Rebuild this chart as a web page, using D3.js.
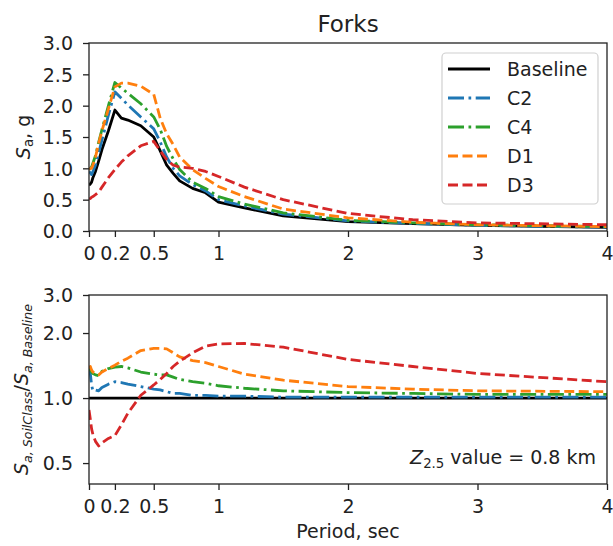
<!DOCTYPE html>
<html>
<head>
<meta charset="utf-8">
<script src="https://cdn.jsdelivr.net/npm/d3@7"></script>
<style>
  body { margin: 0; background: #fff; }
  svg { display: block; font-family: "DejaVu Sans", sans-serif; }
  .tick text { fill: #222; }
</style>
</head>
<body>
<div id="chart"></div>
<script>
// periods (sec)
const periods = [0, 0.01, 0.02, 0.03, 0.05, 0.075, 0.1, 0.15, 0.2, 0.25, 0.3, 0.4, 0.5, 0.55, 0.6, 0.65, 0.7, 0.8, 0.9, 1.0, 1.2, 1.5, 2.0, 2.5, 3.0, 4.0];

// spectral acceleration, g
const saBaseline = [0.73, 0.75, 0.78, 0.85, 0.95, 1.12, 1.30, 1.60, 1.93, 1.80, 1.77, 1.68, 1.50, 1.28, 1.05, 0.92, 0.80, 0.68, 0.61, 0.46, 0.37, 0.24, 0.15, 0.12, 0.09, 0.06];
const saC2 = [0.95, 0.93, 0.90, 0.95, 1.05, 1.25, 1.45, 1.85, 2.22, 2.12, 2.01, 1.82, 1.63, 1.42, 1.18, 1.00, 0.88, 0.74, 0.64, 0.50, 0.40, 0.27, 0.16, 0.12, 0.09, 0.06];
const saC4 = [0.98, 1.00, 1.02, 1.08, 1.20, 1.42, 1.62, 2.00, 2.37, 2.28, 2.20, 2.03, 1.82, 1.62, 1.35, 1.15, 0.98, 0.78, 0.68, 0.55, 0.43, 0.29, 0.17, 0.13, 0.10, 0.07];
const saD1 = [0.98, 1.00, 1.00, 1.05, 1.18, 1.40, 1.60, 1.95, 2.30, 2.36, 2.36, 2.31, 2.18, 1.80, 1.55, 1.38, 1.18, 0.98, 0.84, 0.71, 0.55, 0.35, 0.21, 0.14, 0.10, 0.07];
const saD3 = [0.51, 0.52, 0.54, 0.55, 0.58, 0.62, 0.70, 0.85, 0.98, 1.10, 1.20, 1.36, 1.43, 1.28, 1.14, 1.05, 1.02, 1.00, 0.95, 0.87, 0.70, 0.50, 0.28, 0.18, 0.13, 0.10];

// ratio Sa(soil class) / Sa(baseline)
const ratioBaseline = periods.map(() => 1.0);
const ratioC2 = [1.40, 1.30, 1.15, 1.08, 1.09, 1.08, 1.12, 1.16, 1.19, 1.18, 1.16, 1.13, 1.10, 1.09, 1.07, 1.05, 1.05, 1.03, 1.03, 1.02, 1.02, 1.01, 1.01, 1.01, 1.01, 1.01];
const ratioC4 = [1.33, 1.38, 1.32, 1.30, 1.28, 1.27, 1.33, 1.37, 1.39, 1.40, 1.38, 1.32, 1.29, 1.28, 1.28, 1.25, 1.22, 1.19, 1.17, 1.14, 1.11, 1.08, 1.06, 1.05, 1.04, 1.04];
const ratioD1 = [1.37, 1.40, 1.35, 1.32, 1.30, 1.28, 1.32, 1.37, 1.42, 1.48, 1.53, 1.66, 1.70, 1.70, 1.69, 1.62, 1.55, 1.49, 1.46, 1.40, 1.29, 1.21, 1.13, 1.10, 1.08, 1.07];
const ratioD3 = [0.88, 0.80, 0.72, 0.68, 0.63, 0.60, 0.62, 0.65, 0.67, 0.75, 0.85, 1.03, 1.15, 1.22, 1.30, 1.40, 1.48, 1.62, 1.74, 1.78, 1.79, 1.72, 1.51, 1.40, 1.30, 1.19];

const xTicks = [0, 0.2, 0.5, 1, 2, 3, 4];
const yTopTicks = [0, 0.5, 1.0, 1.5, 2.0, 2.5, 3.0];
const yBotTicks = [0.5, 1.0, 2.0, 3.0];

const series = [
    {name: "Baseline", sa: saBaseline, ratio: ratioBaseline, color: "#000000", dash: null},
    {name: "C2", sa: saC2, ratio: ratioC2, color: "#1f77b4", dash: "16,4.5,2.7,4.5"},
    {name: "C4", sa: saC4, ratio: ratioC4, color: "#2ca02c", dash: "16,4.5,2.7,4.5"},
    {name: "D1", sa: saD1, ratio: ratioD1, color: "#ff7f0e", dash: "10,4.5"},
    {name: "D3", sa: saD3, ratio: ratioD3, color: "#d62728", dash: "10,4.5"}
];

const width = 613, height = 546;
const left = 89, right = 607;
const top1 = 43, bottom1 = 231;
const top2 = 295, bottom2 = 484;
const fs = 19;
const fsSub = 13.3;

const svg = d3.select("#chart").append("svg")
    .attr("width", width)
    .attr("height", height);

const x = d3.scaleLinear().domain([0, 4]).range([left, right]);
const yTop = d3.scaleLinear().domain([0, 3]).range([bottom1, top1]);
const yBot = d3.scaleLog().domain([0.4, 3]).range([bottom2, top2]);

const defs = svg.append("defs");
defs.append("clipPath").attr("id", "clipTop")
    .append("rect").attr("x", left).attr("y", top1).attr("width", right - left).attr("height", bottom1 - top1);
defs.append("clipPath").attr("id", "clipBot")
    .append("rect").attr("x", left).attr("y", top2).attr("width", right - left).attr("height", bottom2 - top2);

function styleAxis(g, horizontal) {
    g.select(".domain").remove();
    g.selectAll(".tick line").attr("stroke", "#222").attr("stroke-width", 1.3);
    g.selectAll(".tick text").attr("font-size", fs).attr("font-family", "DejaVu Sans");
    if (horizontal) {
        g.selectAll(".tick text").attr("y", 29).attr("dy", 0);
    } else {
        g.selectAll(".tick text").attr("x", -16).attr("dy", "0.36em");
    }
}

function panel(yScale, yTicks, yFmt, accessor, clipId, yTopPx, yBotPx) {
    const g = svg.append("g");

    g.append("g")
        .attr("transform", `translate(0,${yBotPx})`)
        .call(d3.axisBottom(x).tickValues(xTicks).tickSize(6).tickFormat(d3.format("")))
        .call(gg => styleAxis(gg, true));

    g.append("g")
        .attr("transform", `translate(${left},0)`)
        .call(d3.axisLeft(yScale).tickValues(yTicks).tickSize(6).tickFormat(yFmt))
        .call(gg => styleAxis(gg, false));

    const line = d3.line()
        .x((d, i) => x(periods[i]))
        .y(d => yScale(d));

    const lines = g.append("g").attr("clip-path", `url(#${clipId})`);
    series.forEach(s => {
        lines.append("path")
            .datum(accessor(s))
            .attr("d", line)
            .attr("fill", "none")
            .attr("stroke", s.color)
            .attr("stroke-width", 2.8)
            .attr("stroke-linejoin", "round")
            .attr("stroke-dasharray", s.dash);
    });

    // frame
    g.append("rect")
        .attr("x", left).attr("y", yTopPx)
        .attr("width", right - left).attr("height", yBotPx - yTopPx)
        .attr("fill", "none")
        .attr("stroke", "#222")
        .attr("stroke-width", 1.3);
    return g;
}

panel(yTop, yTopTicks, d3.format(".1f"), s => s.sa, "clipTop", top1, bottom1);
panel(yBot, yBotTicks, d3.format(".1f"), s => s.ratio, "clipBot", top2, bottom2);

// title
svg.append("text")
    .attr("x", (left + right) / 2).attr("y", 32)
    .attr("text-anchor", "middle")
    .attr("font-size", 23)
    .attr("fill", "#222")
    .text("Forks");

// legend
const leg = svg.append("g");
leg.append("rect")
    .attr("x", 442).attr("y", 53).attr("width", 156).attr("height", 151)
    .attr("rx", 4)
    .attr("fill", "#fff").attr("fill-opacity", 0.8)
    .attr("stroke", "#d0d0d0").attr("stroke-width", 1.2);
series.forEach((s, i) => {
    const cy = 69 + i * 29;
    leg.append("line")
        .attr("x1", 448).attr("x2", 490).attr("y1", cy).attr("y2", cy)
        .attr("stroke", s.color).attr("stroke-width", 2.8)
        .attr("stroke-dasharray", s.dash);
    leg.append("text")
        .attr("x", 507).attr("y", cy).attr("dy", "0.36em")
        .attr("font-size", fs).attr("fill", "#222")
        .text(s.name);
});

// y label top
const yl1 = svg.append("text")
    .attr("transform", `translate(30,${(top1 + bottom1) / 2}) rotate(-90)`)
    .attr("text-anchor", "middle")
    .attr("font-size", fs).attr("fill", "#222");
yl1.append("tspan").attr("font-style", "italic").text("S");
yl1.append("tspan").attr("font-size", fsSub).attr("dy", 3).text("a");
yl1.append("tspan").attr("dy", -3).text(", g");

// y label bottom
const yl2 = svg.append("text")
    .attr("transform", `translate(28,${(top2 + bottom2) / 2}) rotate(-90)`)
    .attr("text-anchor", "middle")
    .attr("font-size", fs).attr("fill", "#222");
yl2.append("tspan").attr("font-style", "italic").text("S");
yl2.append("tspan").attr("font-style", "italic").attr("font-size", 12.6).attr("dy", 3.5).text("a, SoilClass");
yl2.append("tspan").attr("dy", -3.5).text("/");
yl2.append("tspan").attr("font-style", "italic").text("S");
yl2.append("tspan").attr("font-style", "italic").attr("font-size", 12.6).attr("dy", 3.5).text("a, Baseline");

// annotation
const ann = svg.append("text")
    .attr("x", 596).attr("y", 464)
    .attr("text-anchor", "end")
    .attr("font-size", fs).attr("fill", "#222");
ann.append("tspan").attr("font-style", "italic").text("Z");
ann.append("tspan").attr("font-size", fsSub).attr("dy", 3.5).text("2.5");
ann.append("tspan").attr("dy", -3.5).text(" value = 0.8 km");

// x label
svg.append("text")
    .attr("x", (left + right) / 2).attr("y", 538)
    .attr("text-anchor", "middle")
    .attr("font-size", fs).attr("fill", "#222")
    .text("Period, sec");
</script>
</body>
</html>
